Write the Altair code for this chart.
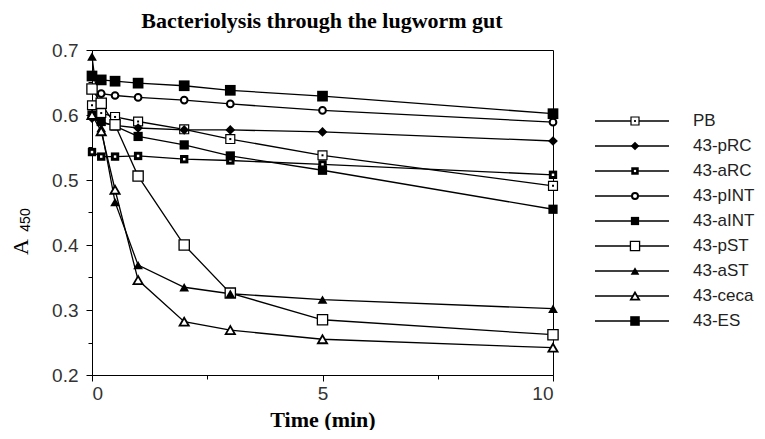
import altair as alt
import pandas as pd

times = [0, 0.2, 0.5, 1, 2, 3, 5, 10]
series_names = ["PB", "43-pRC", "43-aRC", "43-pINT", "43-aINT",
                "43-pST", "43-aST", "43-ceca", "43-ES"]

pb_vals = [0.615, 0.603, 0.597, 0.590, 0.578, 0.563, 0.538, 0.491]
prc_vals = [0.595, 0.588, 0.584, 0.580, 0.577, 0.577, 0.574, 0.560]
arc_vals = [0.543, 0.536, 0.536, 0.537, 0.532, 0.530, 0.524, 0.508]
pint_vals = [0.640, 0.633, 0.630, 0.627, 0.623, 0.617, 0.607, 0.589]
aint_vals = [0.600, 0.590, 0.583, 0.567, 0.554, 0.537, 0.515, 0.455]
pst_vals = [0.640, 0.618, 0.585, 0.506, 0.400, 0.326, 0.285, 0.262]
ast_vals = [0.690, 0.580, 0.466, 0.369, 0.335, 0.325, 0.316, 0.302]
ceca_vals = [0.600, 0.575, 0.485, 0.346, 0.282, 0.269, 0.255, 0.242]
es_vals = [0.660, 0.654, 0.652, 0.649, 0.645, 0.638, 0.629, 0.602]

all_vals = [pb_vals, prc_vals, arc_vals, pint_vals, aint_vals,
            pst_vals, ast_vals, ceca_vals, es_vals]

rows = []
for name, vals in zip(series_names, all_vals):
    for t, v in zip(times, vals):
        rows.append({"series": name, "time": t, "a450": v})
df = pd.DataFrame(rows)
leg_df = pd.DataFrame({"series": series_names})

STYLES = {
    "PB": [dict(shape="square", size=80, fill="white", stroke="black", strokeWidth=1.2),
           dict(shape="square", size=4, fill="black")],
    "43-pRC": [dict(shape="diamond", size=95, fill="black")],
    "43-aRC": [dict(shape="square", size=70, fill="black"),
               dict(shape="square", size=6, fill="white")],
    "43-pINT": [dict(shape="circle", size=45, fill="white", stroke="black", strokeWidth=2)],
    "43-aINT": [dict(shape="square", size=85, fill="black")],
    "43-pST": [dict(shape="square", size=105, fill="white", stroke="black", strokeWidth=1.3)],
    "43-aST": [dict(shape="triangle-up", size=95, fill="black")],
    "43-ceca": [dict(shape="triangle-up", size=85, fill="white", stroke="black", strokeWidth=1.8)],
    "43-ES": [dict(shape="square", size=115, fill="black")],
}


def marker_layers(data, xenc, yenc, scale=1.0):
    layers = []
    for name in series_names:
        for s in STYLES[name]:
            kw = dict(filled=True, shape=s["shape"], size=s["size"] * scale,
                      fill=s["fill"], opacity=1)
            if "stroke" in s:
                kw["stroke"] = s["stroke"]
                kw["strokeWidth"] = s["strokeWidth"]
            else:
                kw["strokeWidth"] = 0
            layers.append(
                alt.Chart(data)
                .transform_filter(alt.datum.series == name)
                .mark_point(**kw)
                .encode(x=xenc, y=yenc)
            )
    return layers


y_major_test = "abs(datum.value*10 - round(datum.value*10)) < 0.001"

x_enc = alt.X(
    "time:Q",
    scale=alt.Scale(domain=[0, 10], nice=False),
    axis=alt.Axis(
        values=[0, 2.5, 5, 7.5, 10],
        labelExpr="datum.value % 5 == 0 ? format(datum.value, 'd') : ''",
        tickSize={"condition": {"test": "datum.value % 5 == 0", "value": 6}, "value": 4},
        title="Time (min)",
        titleFont="Liberation Serif",
        titleFontWeight="bold",
        titleFontSize=22,
        titleColor="black",
        titlePadding=6,
        labelPadding=3,
        grid=False,
    ),
)
y_enc = alt.Y(
    "a450:Q",
    scale=alt.Scale(domain=[0.2, 0.7], nice=False, zero=False),
    axis=alt.Axis(
        values=[0.2, 0.25, 0.3, 0.35, 0.4, 0.45, 0.5, 0.55, 0.6, 0.65, 0.7],
        labelExpr=y_major_test + " ? format(datum.value, '.1f') : ''",
        tickSize={"condition": {"test": y_major_test, "value": 6}, "value": 4},
        labelPadding=8,
        title=None,
        grid=False,
    ),
)

lines = alt.Chart(df).mark_line(color="black", strokeWidth=1.3).encode(
    x=x_enc, y=y_enc, detail="series:N", order="time:Q"
)

title_txt = alt.Chart(pd.DataFrame({"t": ["Bacteriolysis through the lugworm gut"]})).mark_text(
    font="Liberation Serif", fontWeight="bold", fontSize=22, align="center",
    baseline="alphabetic", color="black"
).encode(x=alt.value(230), y=alt.value(-22), text="t:N")

ya_txt = alt.Chart(pd.DataFrame({"t": ["A"]})).mark_text(
    font="Liberation Serif", fontSize=22, angle=270, align="center",
    baseline="middle", color="black"
).encode(x=alt.value(-71), y=alt.value(197), text="t:N")

y450_txt = alt.Chart(pd.DataFrame({"t": ["450"]})).mark_text(
    font="Liberation Sans", fontSize=14, angle=270, align="center",
    baseline="middle", color="black"
).encode(x=alt.value(-66), y=alt.value(170), text="t:N")

main = alt.layer(
    lines, *marker_layers(df, x_enc, y_enc), title_txt, ya_txt, y450_txt
)

leg_y = alt.Y("series:N",
              scale=alt.Scale(type="point", domain=series_names, range=[71, 271], padding=0),
              axis=None)
leg_rules = alt.Chart(leg_df).mark_rule(color="black", strokeWidth=1.3).encode(
    x=alt.value(503), x2=alt.value(577), y=leg_y
)
leg_text = alt.Chart(leg_df).mark_text(
    align="left", baseline="middle", font="Liberation Sans", fontSize=17, color="#222"
).encode(x=alt.value(601), y=leg_y, text="series:N")

legend = alt.layer(
    leg_rules, *marker_layers(leg_df, alt.value(543), leg_y, scale=0.8), leg_text
)

chart = alt.layer(main, legend).resolve_scale(y="independent").properties(
    width=461, height=325,
    padding={"left": 2, "top": 2, "right": 0, "bottom": 0},
    view=alt.ViewBackground(stroke="black", strokeWidth=1),
).configure_axis(
    labelFont="Liberation Sans",
    labelFontSize=19,
    labelColor="#333",
    domainColor="black",
    tickColor="black",
    domainWidth=1,
    tickWidth=1,
)

chart.save("out.html", embed_options={"renderer": "svg", "actions": False})
